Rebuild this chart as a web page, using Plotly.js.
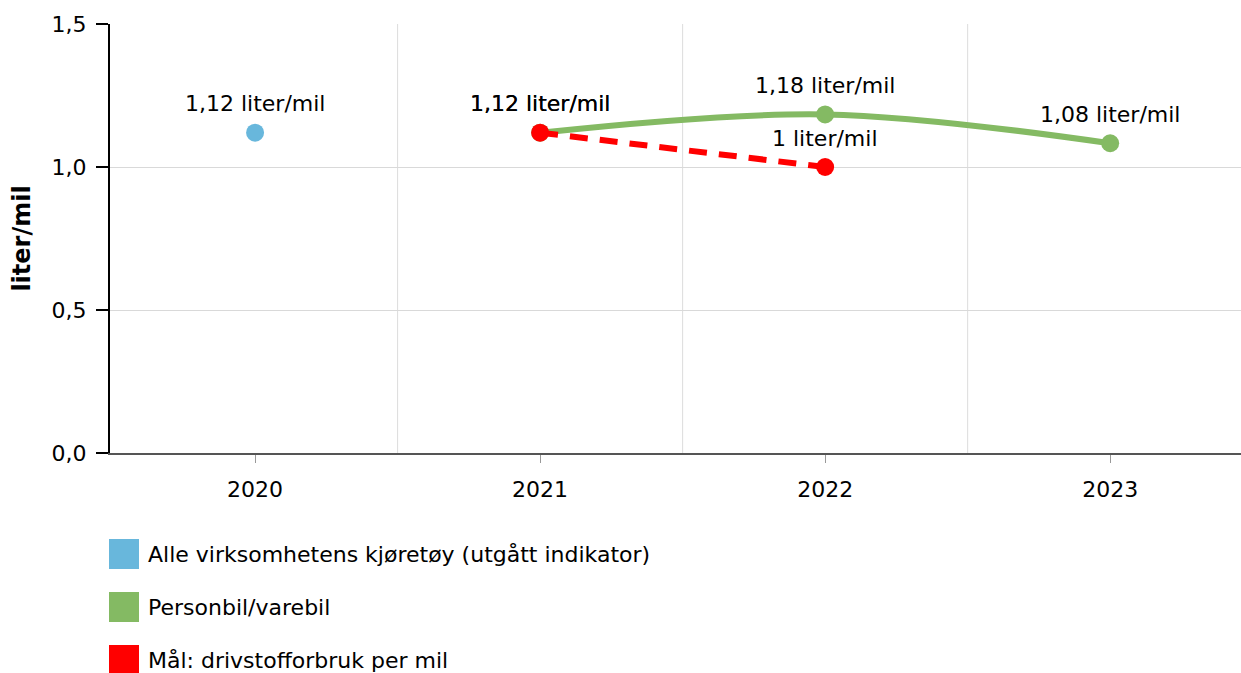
<!DOCTYPE html>
<html>
<head>
<meta charset="utf-8">
<script src="https://cdn.plot.ly/plotly-3.0.1.min.js"></script>
<style>html,body{margin:0;padding:0;background:#fff;}#chart{width:1241px;height:673px;}</style>
</head>
<body>
<div id="chart"></div>
<script>
// ---- data ----
const years = ['2020', '2021', '2022', '2023'];
const seriesNames = ['Alle virksomhetens kjøretøy (utgått indikator)', 'Personbil/varebil', 'Mål: drivstofforbruk per mil'];
const seriesColors = ['#68b7dc', '#84ba63', '#ff0000'];
const allYears = ['2020'];
const allValues = [1.12];
const carYears = ['2021', '2022', '2023'];
const carValues = [1.12, 1.184, 1.083];
const goalYears = ['2021', '2022'];
const goalValues = [1.12, 1.0];
const yTicks = [0, 0.5, 1.0, 1.5];
const unit = 'liter/mil';

const FONT = 'DejaVu Sans, Verdana, sans-serif';
const FS = 22;
const fmt = v => v.toFixed(2).replace(/0+$/, '').replace(/\.$/, '').replace('.', ',') + ' ' + unit;

const W = 1241, H = 673, L = 110, T = 24, R = 0, B = 220;
const pw = W - L - R, ph = H - T - B;
const px2x = p => (p - L) / pw;
const px2y = p => (H - B - p) / ph;

const traces = [
  {x: allYears, y: allValues, type: 'scatter', mode: 'markers', name: seriesNames[0],
   marker: {color: seriesColors[0], size: 18}, showlegend: false},
  {x: carYears, y: carValues, type: 'scatter', mode: 'lines+markers', name: seriesNames[1],
   line: {color: seriesColors[1], width: 6, shape: 'spline', smoothing: 1},
   marker: {color: seriesColors[1], size: 18}, showlegend: false},
  {x: goalYears, y: goalValues, type: 'scatter', mode: 'lines+markers', name: seriesNames[2],
   line: {color: seriesColors[2], width: 6, dash: '18px,12px'},
   marker: {color: seriesColors[2], size: 18}, showlegend: false}
];

const annotations = [];
[[allYears, allValues], [carYears, carValues], [goalYears, goalValues]].forEach(([xs, ys]) => {
  xs.forEach((x, i) => {
    annotations.push({x: years.indexOf(x), y: ys[i], xref: 'x', yref: 'y', text: fmt(ys[i]), showarrow: false,
      yanchor: 'middle', xanchor: 'center', yshift: 29, font: {family: FONT, size: FS, color: '#000'}});
  });
});

const shapes = [];
for (let i = 0; i < years.length - 1; i++) {
  shapes.push({type: 'line', xref: 'x', yref: 'paper', x0: i + 0.5, x1: i + 0.5, y0: 0, y1: 1,
    line: {color: '#dcdcdc', width: 1}, layer: 'below'});
}
// legend (manual, square swatches)
const legendRows = [554, 607, 660];
seriesNames.forEach((n, i) => {
  const cy = legendRows[i];
  shapes.push({type: 'rect', xref: 'paper', yref: 'paper',
    x0: px2x(109), x1: px2x(139), y0: px2y(cy + 15), y1: px2y(cy - 15),
    fillcolor: seriesColors[i], line: {width: 0}});
  annotations.push({xref: 'paper', yref: 'paper', x: px2x(146), y: px2y(cy), xanchor: 'left', yanchor: 'middle',
    text: n, showarrow: false, font: {family: FONT, size: FS, color: '#000'}});
});

const layout = {
  width: W, height: H,
  margin: {l: L, r: R, t: T, b: B, pad: 0},
  paper_bgcolor: '#fff', plot_bgcolor: '#fff',
  separators: ', ',
  showlegend: false,
  font: {family: FONT, size: FS, color: '#000'},
  xaxis: {type: 'category', categoryorder: 'array', categoryarray: years, range: [-0.509, 3.459],
    showgrid: false, zeroline: false, showline: true, linecolor: '#555', linewidth: 2,
    ticks: 'outside', ticklen: 8, tickcolor: '#999', tickwidth: 1, ticklabelstandoff: 8,
    tickfont: {family: FONT, size: FS, color: '#000'}, automargin: false},
  yaxis: {range: [0, 1.5], tickvals: yTicks, tickformat: '.1f', showgrid: true, gridcolor: '#d9d9d9', gridwidth: 1,
    zeroline: false, showline: true, linecolor: '#000', linewidth: 2,
    ticks: 'outside', ticklen: 12, tickcolor: '#000', tickwidth: 2, ticklabelstandoff: 5,
    tickfont: {family: FONT, size: FS, color: '#000'}, automargin: false,
    title: {text: '<b>' + unit + '</b>', standoff: 14, font: {family: FONT, size: 24, color: '#000'}}},
  shapes: shapes,
  annotations: annotations
};

Plotly.newPlot('chart', traces, layout, {displayModeBar: false, responsive: false});
</script>
</body>
</html>
